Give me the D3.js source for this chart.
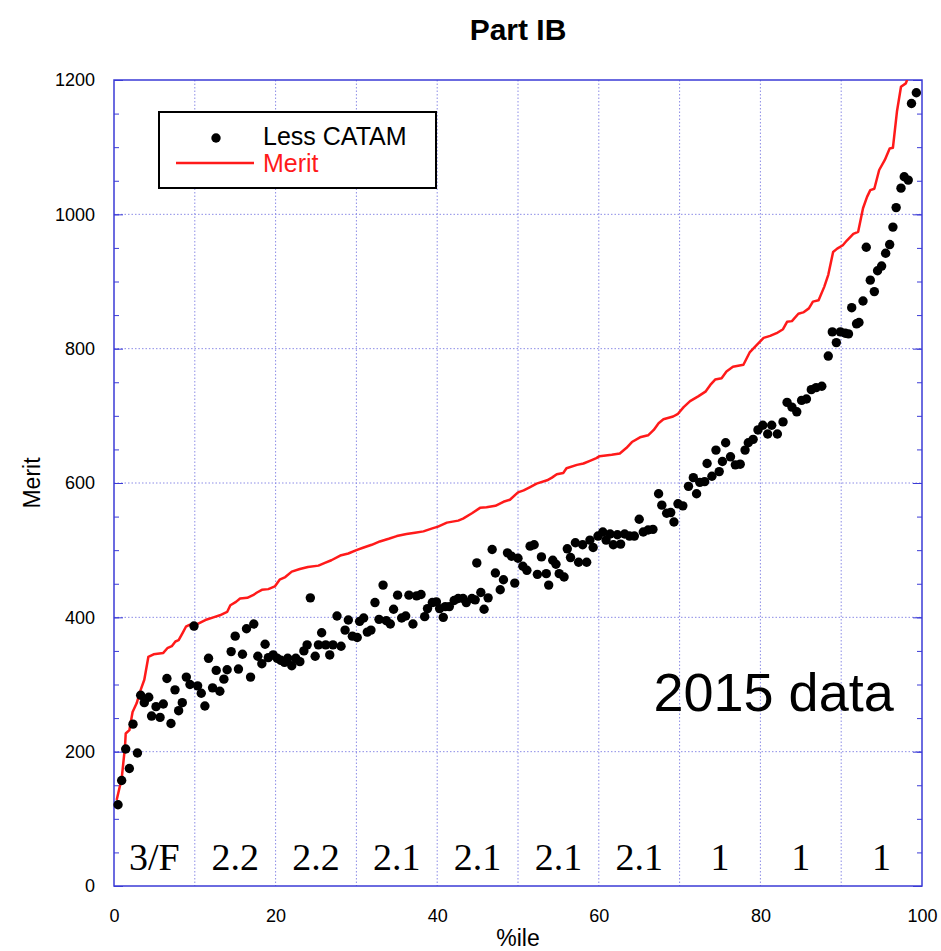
<!DOCTYPE html>
<html lang="en">
	<head>
		<meta charset="utf-8">
		<title>Part IB</title>
		<script type="text/javascript" src="https://cdn.jsdelivr.net/npm/d3@7"></script>
		<style type="text/css">
			body { margin: 0; background: #fff; }
		</style>
	</head>
	<body>
		<script type="text/javascript">
			// Less CATAM scores (percentile, merit)
			var dotPct = [0.5,0.95,1.45,1.9,2.35,2.9,3.3,3.75,4.3,4.65,5.2,5.7,6.1,6.55,7.05,7.55,8.0,8.45,8.95,9.4,
				9.9,10.35,10.8,11.25,11.7,12.2,12.65,13.1,13.6,14.0,14.5,15.0,15.4,15.9,16.4,16.9,17.3,17.8,18.3,18.7,
				19.1,19.7,20.2,20.65,21.1,21.5,22.0,22.5,23.0,23.5,23.9,24.3,24.9,25.3,25.7,26.2,26.7,27.1,27.6,28.1,
				28.6,29.0,29.5,30.1,30.4,30.9,31.35,31.8,32.3,32.8,33.3,33.7,34.2,34.6,35.1,35.6,36.1,36.5,37.0,37.45,
				38.0,38.45,38.8,39.4,39.9,40.3,40.75,41.0,41.5,42.1,42.6,43.2,43.6,44.3,44.7,44.9,45.4,45.8,46.3,46.8,
				47.2,47.8,48.2,48.7,49.2,49.6,50.0,50.6,51.1,51.5,52.0,52.4,52.9,53.5,53.8,54.3,54.7,55.1,55.7,56.1,
				56.5,57.1,57.5,58.0,58.5,58.9,59.3,59.9,60.5,60.9,61.4,61.8,62.3,62.7,63.2,63.8,64.4,65.0,65.5,66.1,
				66.7,67.4,67.8,68.4,68.9,69.3,69.8,70.4,71.1,71.7,72.1,72.5,73.1,73.4,74.0,74.5,74.9,75.3,75.7,76.3,
				76.9,77.5,78.1,78.5,79.1,79.7,80.3,80.9,81.4,82.1,82.8,83.3,83.9,84.5,85.1,85.7,86.3,86.9,87.6,88.4,
				88.9,89.4,89.9,90.5,90.9,91.3,91.9,92.2,92.7,93.1,93.6,94.1,94.5,95.0,95.5,96.0,96.4,96.8,97.4,97.8,
				98.3,98.7,99.3];
			var lessCatam = [121,157,204,175,241,198,284,273,281,253,267,251,271,309,242,292,261,273,311,300,
				387,298,287,268,339,295,321,290,308,322,349,372,323,345,383,311,390,342,331,360,
				340,344,339,336,333,339,328,339,334,350,359,429,342,359,377,359,344,359,402,357,
				381,396,372,370,394,399,378,381,422,397,448,395,390,412,433,399,402,433,390,432,
				434,401,413,422,423,413,400,416,416,425,428,428,422,428,426,481,437,412,429,501,
				466,441,456,496,491,451,488,476,470,506,508,464,490,465,448,485,479,465,460,502,
				489,511,482,508,482,515,504,521,527,515,524,508,523,509,524,521,521,546,527,530,
				531,584,567,555,556,542,569,566,595,608,584,601,602,629,610,649,617,632,660,639,
				627,628,649,660,665,679,686,673,686,673,691,720,713,706,723,725,739,742,744,789,
				825,809,825,823,822,861,837,839,871,951,902,885,916,923,942,955,981,1010,1039,1056,
				1051,1165,1181];

			// Merit line
			var meritPct = [0.33,0.95,1.36,1.45,1.9,2.3,2.8,3.3,3.75,4.25,4.9,6.1,6.6,7.15,7.6,8.0,8.5,8.9,9.4,10.3,
				11.3,12.3,13.1,14.0,14.4,15.1,15.6,16.5,17.2,17.7,18.3,19.1,19.9,20.5,21.2,22.0,23.0,24.0,25.3,26.1,
				26.9,28.0,29.0,30.0,30.9,31.9,32.9,34.0,35.0,36.2,37.25,38.3,39.3,40.1,41.2,42.6,43.2,44.3,45.3,46.1,
				47.2,48.2,49.0,50.0,50.7,51.5,52.3,53.6,54.2,54.8,55.6,56.0,57.3,58.1,58.9,59.7,60.1,61.6,62.6,63.4,
				64.1,65.1,66.1,66.8,67.4,68.0,69.2,69.8,70.5,71.3,72.3,73.2,73.8,74.4,75.2,75.8,76.6,77.9,78.7,79.5,
				80.4,81.2,82.0,82.8,83.3,83.9,84.7,85.3,86.0,86.5,87.2,87.9,88.4,89.0,89.5,90.2,90.7,91.5,92.1,92.7,
				93.2,93.6,94.1,94.7,95.4,96.0,96.4,96.9,97.4,98.0,98.6];
			var merit = [128,160,207,227,232,259,272,292,307,341,345,347,354,357,364,366,377,386,389,390,
				396,400,403,408,418,423,428,429,433,437,441,442,446,456,460,468,472,475,477,481,
				485,492,495,500,504,508,513,517,521,524,526,528,532,535,541,544,547,555,563,564,
				566,572,575,586,589,594,599,604,608,613,615,622,627,629,633,637,640,642,644,652,
				661,668,671,679,689,695,699,703,713,722,729,736,746,754,756,766,773,776,795,805,
				816,819,823,829,840,841,852,854,860,870,872,892,910,944,949,954,961,971,974,1009,
				1026,1036,1038,1066,1081,1098,1099,1153,1190,1195,1215];

			var xTicks = [0,20,40,60,80,100];
			var yTicks = [0,200,400,600,800,1000,1200];
			var bandLabels = ["3/F","2.2","2.2","2.1","2.1","2.1","2.1","1","1","1"];

			var w = 941;
			var h = 951;
			var padL = 114, padT = 80, pw = 808, ph = 806;
			var frameCol = "#3b3bd6";
			var gridCol = "#8c8ce6";
			var sans = "'Liberation Sans', Arial, sans-serif";

			var svg = d3.select("body")
				.append("svg")
				.attr("width", w)
				.attr("height", h)
				.attr("font-family", sans);

			var x = d3.scaleLinear().domain([0, 100]).range([0, pw]);
			var y = d3.scaleLinear().domain([0, 1200]).range([ph, 0]);

			var g = svg.append("g").attr("transform", "translate(" + padL + "," + padT + ")");

			svg.append("defs").append("clipPath").attr("id", "plotclip")
				.append("rect").attr("width", pw).attr("height", ph);

			// grid
			g.selectAll(".vgrid")
				.data(d3.range(10, 100, 10))
				.enter()
				.append("line")
				.attr("x1", function(d) { return x(d); })
				.attr("x2", function(d) { return x(d); })
				.attr("y1", 0)
				.attr("y2", ph)
				.attr("stroke", gridCol)
				.attr("stroke-width", 1)
				.attr("stroke-dasharray", "1.5,2");
			g.selectAll(".hgrid")
				.data(d3.range(200, 1200, 200))
				.enter()
				.append("line")
				.attr("x1", 0)
				.attr("x2", pw)
				.attr("y1", function(d) { return y(d); })
				.attr("y2", function(d) { return y(d); })
				.attr("stroke", gridCol)
				.attr("stroke-width", 1)
				.attr("stroke-dasharray", "1.5,2");

			// minor ticks (every 50) on both sides
			var minor = d3.range(0, 1201, 50);
			g.append("g")
				.call(d3.axisLeft(y).tickValues(minor).tickSize(-5).tickFormat(""))
				.call(function(s) { s.select(".domain").remove(); s.selectAll("line").attr("stroke", frameCol); });
			g.append("g")
				.attr("transform", "translate(" + pw + ",0)")
				.call(d3.axisRight(y).tickValues(minor).tickSize(-5).tickFormat(""))
				.call(function(s) { s.select(".domain").remove(); s.selectAll("line").attr("stroke", frameCol); });

			// major axes
			var yAxis = g.append("g")
				.call(d3.axisLeft(y).tickValues(yTicks).tickSize(-9).tickPadding(19).tickFormat(d3.format("d")));
			g.append("g")
				.attr("transform", "translate(" + pw + ",0)")
				.call(d3.axisRight(y).tickValues(yTicks).tickSize(-9).tickFormat(""))
				.call(function(s) { s.select(".domain").remove(); s.selectAll("line").attr("stroke", frameCol); });
			var xAxis = g.append("g")
				.attr("transform", "translate(0," + ph + ")")
				.call(d3.axisBottom(x).tickValues(xTicks).tickSize(0).tickPadding(23).tickFormat(d3.format("d")));

			[yAxis, xAxis].forEach(function(a) {
				a.attr("font-family", sans).attr("font-size", 18);
				a.select(".domain").remove();
				a.selectAll("line").attr("stroke", frameCol);
				a.selectAll("text").attr("fill", "#000");
			});

			// frame
			g.append("rect")
				.attr("width", pw)
				.attr("height", ph)
				.attr("fill", "none")
				.attr("stroke", frameCol)
				.attr("stroke-width", 1.5);

			// merit line
			var meritData = meritPct.map(function(d, i) { return [d, merit[i]]; });
			g.append("path")
				.datum(meritData)
				.attr("clip-path", "url(#plotclip)")
				.attr("fill", "none")
				.attr("stroke", "#ff1a1a")
				.attr("stroke-width", 2.5)
				.attr("stroke-linejoin", "round")
				.attr("d", d3.line()
					.x(function(d) { return x(d[0]); })
					.y(function(d) { return y(d[1]); }));

			// less CATAM dots
			g.selectAll(".dot")
				.data(dotPct)
				.enter()
				.append("circle")
				.attr("cx", function(d) { return x(d); })
				.attr("cy", function(d, i) { return y(lessCatam[i]); })
				.attr("r", 4.7)
				.attr("fill", "#000");

			// class bands
			g.selectAll(".band")
				.data(bandLabels)
				.enter()
				.append("text")
				.text(function(d) { return d; })
				.attr("x", function(d, i) { return x(i * 10 + 5); })
				.attr("y", y(24))
				.attr("text-anchor", "middle")
				.attr("font-family", "'Liberation Serif', 'Times New Roman', serif")
				.attr("font-size", "38px")
				.attr("fill", "#000");

			g.append("text")
				.text("2015 data")
				.attr("x", x(96.5))
				.attr("y", y(260))
				.attr("text-anchor", "end")
				.attr("font-size", "54px")
				.attr("fill", "#000");

			// legend
			var lg = svg.append("g");
			lg.append("rect")
				.attr("x", 159).attr("y", 112)
				.attr("width", 277).attr("height", 76)
				.attr("fill", "#fff")
				.attr("stroke", "#000")
				.attr("stroke-width", 2);
			lg.append("circle").attr("cx", 216).attr("cy", 138).attr("r", 4.7).attr("fill", "#000");
			lg.append("text").text("Less CATAM")
				.attr("x", 263).attr("y", 145)
				.attr("font-size", "25px").attr("fill", "#000");
			lg.append("line")
				.attr("x1", 176).attr("x2", 254).attr("y1", 163).attr("y2", 163)
				.attr("stroke", "#ff1a1a").attr("stroke-width", 2.5);
			lg.append("text").text("Merit")
				.attr("x", 263).attr("y", 172)
				.attr("font-size", "25px").attr("fill", "#ff1a1a");

			// titles
			svg.append("text")
				.text("Part IB")
				.attr("x", padL + pw / 2)
				.attr("y", 40)
				.attr("text-anchor", "middle")
				.attr("font-weight", "bold")
				.attr("font-size", "30px")
				.attr("fill", "#000");
			svg.append("text")
				.text("%ile")
				.attr("x", padL + pw / 2)
				.attr("y", 946)
				.attr("text-anchor", "middle")
				.attr("font-size", "23px")
				.attr("fill", "#000");
			svg.append("text")
				.text("Merit")
				.attr("transform", "translate(40," + (padT + ph / 2) + ") rotate(-90)")
				.attr("text-anchor", "middle")
				.attr("font-size", "23px")
				.attr("fill", "#000");
		</script>
	</body>
</html>
